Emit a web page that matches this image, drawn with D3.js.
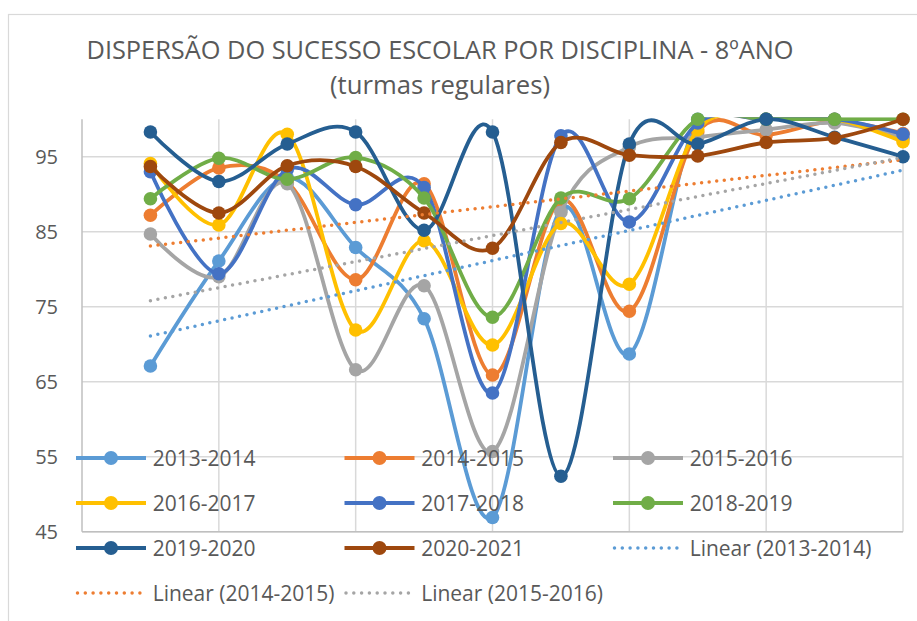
<!DOCTYPE html>
<html>
<head>
<meta charset="utf-8">
<script src="https://cdn.jsdelivr.net/npm/d3@7/dist/d3.min.js"></script>
<style>
  html, body { margin: 0; padding: 0; background: #fff; }
  svg { display: block; }
  text { font-family: "Open Sans", "Noto Sans", sans-serif; fill: #595959; }
</style>
</head>
<body>
<svg id="chart" width="917" height="621"></svg>
<script>
// Disciplines along the horizontal axis (unlabelled in the chart)
const disciplinas = [1, 2, 3, 4, 5, 6, 7, 8, 9, 10, 11, 12];

// Success rate (%) per discipline, one array per school year
const ano2013_2014 = [67.1, 81.1, 92.2, 82.9, 73.4, 46.9, 88.0, 68.7, 100, 100, 100, 97.5];
const ano2014_2015 = [87.2, 93.5, 91.6, 78.6, 91.4, 65.9, 89.2, 74.4, 98.3, 97.9, 99.7, 98.1];
const ano2015_2016 = [84.7, 79.0, 91.4, 66.6, 77.8, 55.7, 87.6, 96.3, 97.6, 98.6, 99.5, 97.5];
const ano2016_2017 = [94.1, 85.9, 98.0, 71.9, 83.8, 69.9, 86.1, 78.0, 98.6, 100, 100, 97.0];
const ano2017_2018 = [93.0, 79.4, 93.3, 88.6, 90.9, 63.5, 97.8, 86.3, 99.5, 100, 100, 98.0];
const ano2018_2019 = [89.4, 94.8, 92.0, 94.9, 89.5, 73.6, 89.5, 89.4, 100, 100, 100, 100];
const ano2019_2020 = [98.3, 91.7, 96.7, 98.3, 85.2, 98.3, 52.4, 96.7, 96.7, 100, 97.6, 95.0];
const ano2020_2021 = [93.7, 87.5, 93.8, 93.7, 87.5, 82.8, 96.9, 95.2, 95.1, 96.9, 97.5, 100];

const anos = ["2013-2014", "2014-2015", "2015-2016", "2016-2017",
              "2017-2018", "2018-2019", "2019-2020", "2020-2021"];
const valores = [ano2013_2014, ano2014_2015, ano2015_2016, ano2016_2017,
                 ano2017_2018, ano2018_2019, ano2019_2020, ano2020_2021];

// Linear trendlines: value at the first and at the last discipline
const tendencia2013_2014 = [71.1, 93.2];
const tendencia2014_2015 = [83.1, 94.6];
const tendencia2015_2016 = [75.8, 94.9];
const tendencias = [
  { nome: "Linear (2013-2014)", ano: "2013-2014", v: tendencia2013_2014 },
  { nome: "Linear (2014-2015)", ano: "2014-2015", v: tendencia2014_2015 },
  { nome: "Linear (2015-2016)", ano: "2015-2016", v: tendencia2015_2016 }
];

const yTicks = [45, 55, 65, 75, 85, 95];

const cores = {
  "2013-2014": "#5B9BD5", "2014-2015": "#ED7D31", "2015-2016": "#A5A5A5",
  "2016-2017": "#FFC000", "2017-2018": "#4472C4", "2018-2019": "#70AD47",
  "2019-2020": "#255E91", "2020-2021": "#9E480E"
};

const svg = d3.select("#chart");

// Chart frame
svg.append("rect").attr("x", 8.5).attr("y", 14.5).attr("width", 940).attr("height", 640)
  .attr("fill", "#fff").attr("stroke", "#D9D9D9").attr("stroke-width", 1.2);

const plot = { left: 82, right: 903, top: 119.2, bottom: 531.7 };

const x = d3.scaleLinear().domain([0, disciplinas.length]).range([plot.left, plot.right]);
const y = d3.scaleLinear().domain([45, 100]).range([plot.bottom, plot.top]);

// Title (two lines, condensed)
const titulo = svg.append("g");
titulo.append("text").attr("x", 440).attr("y", 59).attr("text-anchor", "middle")
  .attr("font-size", 26).attr("textLength", 707).attr("lengthAdjust", "spacingAndGlyphs")
  .text("DISPERSÃO DO SUCESSO ESCOLAR POR DISCIPLINA - 8ºANO");
titulo.append("text").attr("x", 440).attr("y", 94).attr("text-anchor", "middle")
  .attr("font-size", 26).attr("textLength", 220).attr("lengthAdjust", "spacingAndGlyphs")
  .text("(turmas regulares)");

// Gridlines
const grid = svg.append("g");
grid.selectAll("line.h").data(yTicks).join("line")
  .attr("x1", plot.left).attr("x2", plot.right)
  .attr("y1", d => y(d)).attr("y2", d => y(d))
  .attr("stroke", "#D9D9D9").attr("stroke-width", 1.5);
grid.selectAll("line.v").data(d3.range(2, disciplinas.length + 1, 2)).join("line")
  .attr("x1", d => x(d)).attr("x2", d => x(d))
  .attr("y1", plot.top).attr("y2", plot.bottom)
  .attr("stroke", "#D9D9D9").attr("stroke-width", 1.5);

// Axes
const yAxis = d3.axisLeft(y).tickValues(yTicks).tickSize(0).tickPadding(24);
const gy = svg.append("g").attr("transform", `translate(${plot.left},0)`).call(yAxis);
gy.select(".domain").remove();
gy.selectAll("text").attr("font-size", 20).attr("fill", "#595959")
  .style("font-family", "'Open Sans', sans-serif");

svg.append("line").attr("x1", plot.left).attr("x2", plot.left)
  .attr("y1", plot.top).attr("y2", plot.bottom)
  .attr("stroke", "#BFBFBF").attr("stroke-width", 1.5);
svg.append("line").attr("x1", plot.left).attr("x2", plot.right)
  .attr("y1", plot.bottom).attr("y2", plot.bottom)
  .attr("stroke", "#BFBFBF").attr("stroke-width", 1.5);

// Lines are clipped to the plot area; markers are not
svg.append("clipPath").attr("id", "area-plot").append("rect")
  .attr("x", plot.left - 10).attr("y", plot.top - 2)
  .attr("width", plot.right - plot.left + 20).attr("height", plot.bottom - plot.top + 12);

// Series: smoothed lines with circular markers
const linha = d3.line()
  .x((d, i) => x(disciplinas[i]))
  .y(d => y(d))
  .curve(d3.curveCardinal.tension(0));

const series = svg.append("g");
anos.forEach((ano, k) => {
  const g = series.append("g");
  g.append("path").datum(valores[k]).attr("d", linha)
    .attr("clip-path", "url(#area-plot)")
    .attr("fill", "none").attr("stroke", cores[ano]).attr("stroke-width", 3.8)
    .attr("stroke-linejoin", "round").attr("stroke-linecap", "round");
  g.selectAll("circle").data(valores[k]).join("circle")
    .attr("cx", (d, i) => x(disciplinas[i])).attr("cy", d => y(d))
    .attr("r", 6.8).attr("fill", cores[ano]);
});

// Trendlines (round dots)
const trend = svg.append("g");
tendencias.forEach(t => {
  trend.append("line")
    .attr("x1", x(disciplinas[0])).attr("y1", y(t.v[0]))
    .attr("x2", x(disciplinas[disciplinas.length - 1])).attr("y2", y(t.v[1]))
    .attr("stroke", cores[t.ano]).attr("stroke-width", 3.5)
    .attr("stroke-dasharray", "0 7.6").attr("stroke-linecap", "round");
});

// Legend
const legenda = [
  ...anos.map(a => ({ nome: a, ano: a, tipo: "serie" })),
  ...tendencias.map(t => ({ nome: t.nome, ano: t.ano, tipo: "tendencia" }))
];
const colX = [76, 344.5, 613];
const rowY = [458, 503, 548, 593];
const leg = svg.append("g");
legenda.forEach((item, i) => {
  const cx = colX[i % 3], cy = rowY[Math.floor(i / 3)];
  const g = leg.append("g").attr("transform", `translate(${cx},${cy})`);
  if (item.tipo === "serie") {
    g.append("line").attr("x1", 0).attr("x2", 70).attr("y1", 0).attr("y2", 0)
      .attr("stroke", cores[item.ano]).attr("stroke-width", 3.8);
    g.append("circle").attr("cx", 35).attr("cy", 0).attr("r", 7).attr("fill", cores[item.ano]);
  } else {
    g.append("line").attr("x1", 1.5).attr("x2", 70).attr("y1", 0).attr("y2", 0)
      .attr("stroke", cores[item.ano]).attr("stroke-width", 3.5)
      .attr("stroke-dasharray", "0 7.8").attr("stroke-linecap", "round");
  }
  g.append("text").attr("x", 76.7).attr("y", 7.5).attr("font-size", 21).text(item.nome);
});
</script>
</body>
</html>
